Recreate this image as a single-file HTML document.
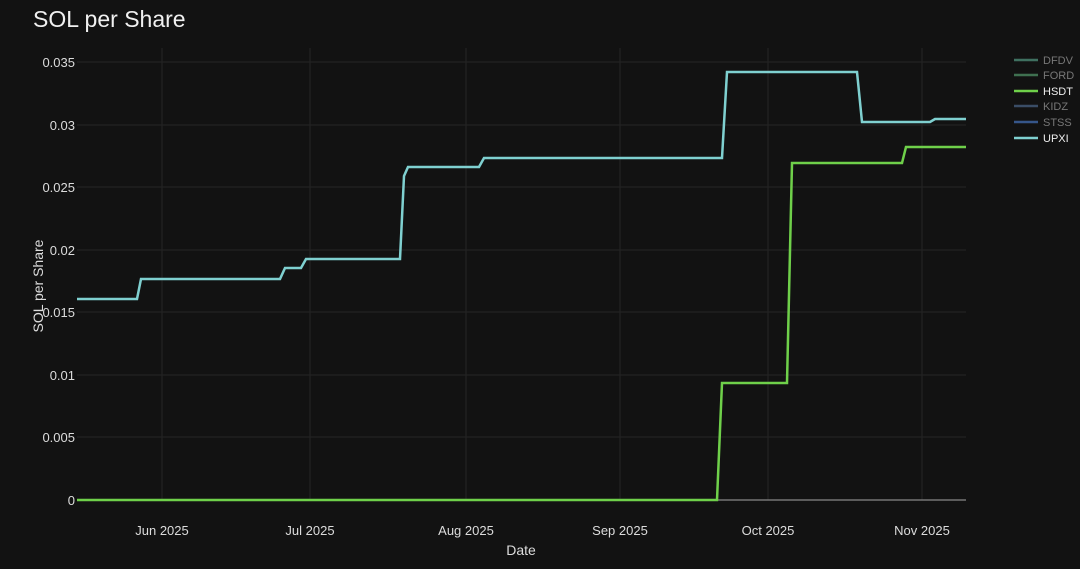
<!DOCTYPE html>
<html><head><style>
body{margin:0;background:#121212;width:1080px;height:569px;overflow:hidden;font-family:"Liberation Sans",sans-serif;}
</style></head><body>
<svg width="1080" height="569" xmlns="http://www.w3.org/2000/svg" style="position:absolute;left:0;top:0">
<rect width="1080" height="569" fill="#121212"/>
<text x="33" y="27" fill="#f0f0f0" font-size="23" font-family="Liberation Sans, sans-serif">SOL per Share</text>
<g stroke="#252525" stroke-width="1">
<line x1="77" x2="966" y1="62" y2="62"/><line x1="77" x2="966" y1="125" y2="125"/>
<line x1="77" x2="966" y1="187" y2="187"/><line x1="77" x2="966" y1="250" y2="250"/>
<line x1="77" x2="966" y1="312" y2="312"/><line x1="77" x2="966" y1="375" y2="375"/>
<line x1="77" x2="966" y1="437" y2="437"/>
<line x1="162" x2="162" y1="48" y2="500"/><line x1="310" x2="310" y1="48" y2="500"/>
<line x1="466" x2="466" y1="48" y2="500"/><line x1="620" x2="620" y1="48" y2="500"/>
<line x1="768" x2="768" y1="48" y2="500"/><line x1="922" x2="922" y1="48" y2="500"/>
</g>
<line x1="77" x2="966" y1="500" y2="500" stroke="#888" stroke-width="1.2"/>
<g fill="#dcdcdc" font-size="13" text-anchor="end" font-family="Liberation Sans, sans-serif">
<text x="75" y="67">0.035</text><text x="75" y="130">0.03</text><text x="75" y="192">0.025</text>
<text x="75" y="255">0.02</text><text x="75" y="317">0.015</text><text x="75" y="380">0.01</text>
<text x="75" y="442">0.005</text><text x="75" y="505">0</text>
</g>
<g fill="#dcdcdc" font-size="13" text-anchor="middle" font-family="Liberation Sans, sans-serif">
<text x="162" y="535">Jun 2025</text><text x="310" y="535">Jul 2025</text><text x="466" y="535">Aug 2025</text>
<text x="620" y="535">Sep 2025</text><text x="768" y="535">Oct 2025</text><text x="922" y="535">Nov 2025</text>
<text x="521" y="555" font-size="14">Date</text>
</g>
<text transform="translate(43,286) rotate(-90)" fill="#dcdcdc" font-size="14" text-anchor="middle" font-family="Liberation Sans, sans-serif">SOL per Share</text>
<polyline fill="none" stroke="#7fd0d0" stroke-width="2.5" points="77,299 137,299 141,279 280,279 285,268 301,268 306,259 400,259 404,176 408,167 479,167 484,158 722,158 727,72 857,72 862,122 930,122 935,119 966,119"/>
<polyline fill="none" stroke="#6fd04a" stroke-width="2.5" points="77,500 717,500 722,383 787,383 792,163 902,163 906,147 966,147"/>
<g stroke-width="2.5">
<line x1="1014" x2="1038" y1="60" y2="60" stroke="#3f7060"/>
<line x1="1014" x2="1038" y1="75" y2="75" stroke="#3f7050"/>
<line x1="1014" x2="1038" y1="91" y2="91" stroke="#6fd04a"/>
<line x1="1014" x2="1038" y1="106" y2="106" stroke="#3a4d66"/>
<line x1="1014" x2="1038" y1="122" y2="122" stroke="#36568a"/>
<line x1="1014" x2="1038" y1="138" y2="138" stroke="#7fd0d0"/>
</g>
<g font-size="11" font-family="Liberation Sans, sans-serif">
<text x="1043" y="64" fill="#777">DFDV</text><text x="1043" y="79" fill="#777">FORD</text>
<text x="1043" y="95" fill="#eee">HSDT</text><text x="1043" y="110" fill="#777">KIDZ</text>
<text x="1043" y="126" fill="#777">STSS</text><text x="1043" y="142" fill="#eee">UPXI</text>
</g>
</svg>
</body></html>
